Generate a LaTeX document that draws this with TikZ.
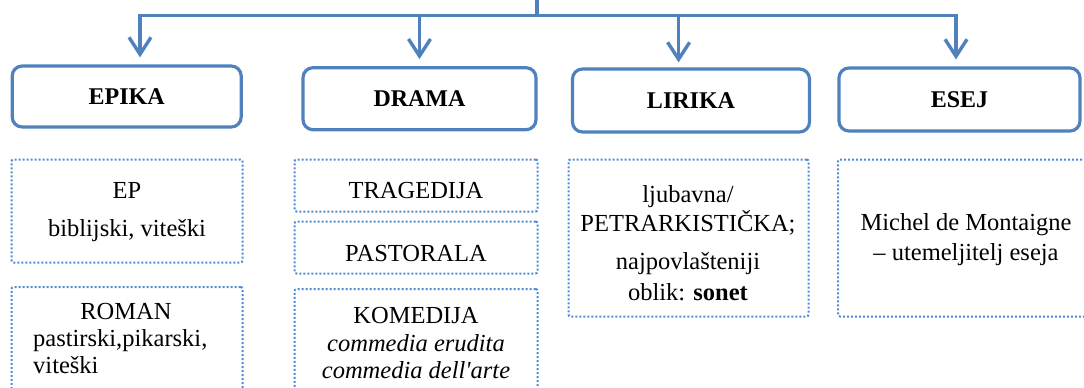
\documentclass[tikz,border=0pt]{standalone}
\usepackage{fontspec}
\setmainfont{Liberation Serif}
\usetikzlibrary{arrows.meta}
\definecolor{solidblue}{RGB}{79,129,189}
\definecolor{dotblue}{RGB}{78,138,212}
\begin{document}
\begin{tikzpicture}[x=1pt,y=-1pt,
  header/.style={draw=solidblue, line width=3.2pt, rounded corners=10pt,
    inner sep=0pt, font=\fontsize{24}{28}\selectfont\bfseries},
  dotbox/.style={draw=dotblue, line width=2pt, dash pattern=on 2pt off 2pt,
    rounded corners=2pt, inner sep=0pt},
  txt/.style={anchor=base, inner sep=0pt, font=\fontsize{24.5}{28}\selectfont},
  txtl/.style={anchor=base west, inner sep=0pt, font=\fontsize{24.5}{28}\selectfont},
  conn/.style={draw=solidblue, line width=3.4pt},
  arr/.style={conn, -{Straight Barb[length=17pt,width=22pt]}, shorten >=7pt}
]
\useasboundingbox (0,0) rectangle (1084,388);
\clip (0,0) rectangle (1084,388);

% header boxes
\node[header, minimum width=229pt, minimum height=61pt] (epika)  at (126.7,96.5) {EPIKA};
\node[header, minimum width=233pt, minimum height=62pt] (drama)  at (419.5,98.7) {DRAMA};
\node[header, minimum width=237pt, minimum height=63pt] (lirika) at (691,100.5) {LIRIKA};
\node[header, minimum width=241pt, minimum height=63pt] (esej)   at (959.5,99.5) {ESEJ};

% connectors
\coordinate (top) at (537,-5);
\coordinate (hub) at (537,15.5);
\draw[conn] (top) -- (hub);
\draw[arr] (hub) -| ([xshift=13.3pt]epika.north);
\draw[arr] (hub) -| (drama.north);
\draw[arr, shorten >=5pt] (hub) -| ([xshift=-12.4pt]lirika.north);
\draw[arr] (hub) -| ([xshift=-3.5pt]esej.north);

% dotted boxes
\node[dotbox, minimum width=231pt, minimum height=103pt] (epbox)    at (127,211) {};
\node[dotbox, minimum width=231pt, minimum height=114pt] (romanbox) at (127,344) {};
\node[dotbox, minimum width=243pt, minimum height=52pt]  (tragbox)  at (416,185.5) {};
\node[dotbox, minimum width=243pt, minimum height=52pt]  (pastbox)  at (416,247.5) {};
\node[dotbox, minimum width=243pt, minimum height=112pt] (kombox)   at (416,345) {};
\node[dotbox, minimum width=240pt, minimum height=157pt] (lirbox)   at (688.5,238) {};
\node[dotbox, minimum width=258pt, minimum height=157pt] (esejbox)  at (967,238) {};

% texts
\node[txt] (ep)    at (127,198) {EP};
\node[txt] (ep2)   at (127,236) {biblijski, viteški};
\node[txt] (trag)  at (416,198) {TRAGEDIJA};
\node[txt] (past)  at (416,261) {PASTORALA};
\node[txt] (roman) at (126,319) {ROMAN};
\node[txtl] (roman2) at (33,346) {pastirski,pikarski,};
\node[txtl] (roman3) at (33,373) {viteški};
\node[txt] (kom)   at (416,323) {KOMEDIJA};
\node[txt] (kom2)  at (416,351) {\itshape commedia erudita};
\node[txt] (kom3)  at (416,378) {\itshape commedia dell\textquotesingle arte};
\node[txt] (lir1)  at (688,202) {ljubavna/};
\node[txt] (lir2)  at (688,231) {PETRARKISTIČKA;};
\node[txt] (lir3)  at (688,269) {najpovlašteniji};
\node[txt] (lir4)  at (688,300) {oblik: \textbf{sonet}};
\node[txt] (es1)   at (966,230) {Michel de Montaigne};
\node[txt] (es2)   at (966,260) {– utemeljitelj eseja};
\end{tikzpicture}
\end{document}
